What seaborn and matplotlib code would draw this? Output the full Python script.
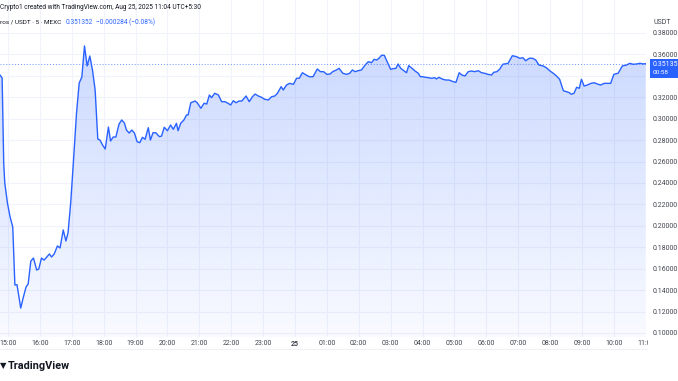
import matplotlib
matplotlib.use("Agg", force=True)
import matplotlib.pyplot as plt
import matplotlib.dates as mdates
import numpy as np
import pandas as pd
import seaborn as sns
from matplotlib.patches import Rectangle
from matplotlib.colors import LinearSegmentedColormap

TIMES = [
    "14:45", "14:49", "14:52", "14:54", "14:59", "15:04", "15:09", "15:13", "15:17", "15:24",
    "15:29", "15:34", "15:38", "15:43", "15:48", "15:54", "15:58", "16:03", "16:08", "16:13",
    "16:18", "16:22", "16:27", "16:33", "16:38", "16:44", "16:49", "16:53", "16:58", "17:03",
    "17:09", "17:14", "17:19", "17:24", "17:29", "17:34", "17:39", "17:44", "17:49", "17:53",
    "17:58", "18:03", "18:09", "18:13", "18:18", "18:23", "18:29", "18:34", "18:39", "18:43",
    "18:48", "18:53", "18:58", "19:03", "19:08", "19:13", "19:18", "19:24", "19:28", "19:33",
    "19:38", "19:45", "19:49", "19:54", "20:00", "20:06", "20:11", "20:17", "20:20", "20:25",
    "20:31", "20:36", "20:39", "20:44", "20:52", "20:56", "21:03", "21:09", "21:14", "21:19",
    "21:23", "21:29", "21:36", "21:42", "21:48", "21:54", "21:59", "22:04", "22:09", "22:15",
    "22:20", "22:28", "22:34", "22:40", "22:45", "22:51", "22:57", "23:03", "23:10", "23:16",
    "23:22", "23:27", "23:34", "23:38", "23:44", "23:50", "23:57", "00:03", "00:08", "00:14",
    "00:21", "00:27", "00:34", "00:42", "00:48", "00:54", "01:00", "01:06", "01:11", "01:18",
    "01:23", "01:30", "01:37", "01:43", "01:48", "01:53", "01:59", "02:05", "02:12", "02:18",
    "02:24", "02:29", "02:34", "02:38", "02:43", "02:48", "02:52", "03:00", "03:05", "03:10",
    "03:14", "03:19", "03:25", "03:30", "03:34", "03:39", "03:46", "03:52", "03:56", "04:01",
    "04:06", "04:11", "04:17", "04:23", "04:26", "04:31", "04:38", "04:44", "04:50", "04:58",
    "05:03", "05:09", "05:14", "05:20", "05:26", "05:32", "05:38", "05:45", "05:51", "05:57",
    "06:03", "06:10", "06:14", "06:20", "06:25", "06:31", "06:41", "06:49", "06:57", "07:03",
    "07:09", "07:14", "07:21", "07:27", "07:33", "07:39", "07:47", "07:53", "08:00", "08:06",
    "08:12", "08:18", "08:25", "08:31", "08:36", "08:40", "08:45", "08:50", "08:55", "08:59",
    "09:04", "09:10", "09:17", "09:23", "09:29", "09:35", "09:42", "09:49", "09:54", "10:00",
    "10:08", "10:16", "10:24", "10:30", "10:36", "10:43", "10:49", "10:55", "11:00",
]
PRICES = [
    0.3408, 0.3380, 0.2586, 0.2399, 0.2213, 0.2082, 0.1989, 0.1447, 0.1450, 0.1232,
    0.1335, 0.1429, 0.1457, 0.1671, 0.1699, 0.1587, 0.1597, 0.1699, 0.1680, 0.1709,
    0.1737, 0.1709, 0.1737, 0.1812, 0.1793, 0.1961, 0.1858, 0.1933, 0.2213, 0.2586,
    0.3053, 0.3333, 0.3389, 0.3679, 0.3492, 0.3585, 0.3455, 0.3268, 0.2810, 0.2801,
    0.2754, 0.2717, 0.2922, 0.2792, 0.2829, 0.2829, 0.2950, 0.2988, 0.2960, 0.2894,
    0.2866, 0.2894, 0.2866, 0.2785, 0.2776, 0.2826, 0.2808, 0.2916, 0.2801, 0.2869,
    0.2869, 0.2832, 0.2838, 0.2920, 0.2888, 0.2941, 0.2901, 0.2957, 0.2888, 0.2957,
    0.2988, 0.3035, 0.3035, 0.3149, 0.3165, 0.3149, 0.3097, 0.3144, 0.3137, 0.3221,
    0.3196, 0.3237, 0.3221, 0.3159, 0.3159, 0.3144, 0.3128, 0.3168, 0.3149, 0.3165,
    0.3165, 0.3212, 0.3159, 0.3205, 0.3230, 0.3212, 0.3200, 0.3181, 0.3175, 0.3205,
    0.3212, 0.3237, 0.3299, 0.3268, 0.3314, 0.3330, 0.3321, 0.3377, 0.3377, 0.3429,
    0.3408, 0.3392, 0.3392, 0.3464, 0.3439, 0.3439, 0.3414, 0.3417, 0.3439, 0.3455,
    0.3470, 0.3424, 0.3414, 0.3424, 0.3455, 0.3439, 0.3448, 0.3455, 0.3501, 0.3532,
    0.3523, 0.3554, 0.3548, 0.3564, 0.3592, 0.3592, 0.3548, 0.3461, 0.3467, 0.3470,
    0.3511, 0.3470, 0.3448, 0.3429, 0.3495, 0.3476, 0.3445, 0.3424, 0.3392, 0.3392,
    0.3386, 0.3383, 0.3377, 0.3383, 0.3371, 0.3386, 0.3368, 0.3361, 0.3361, 0.3345,
    0.3340, 0.3429, 0.3408, 0.3399, 0.3439, 0.3445, 0.3439, 0.3448, 0.3429, 0.3424,
    0.3414, 0.3408, 0.3433, 0.3439, 0.3461, 0.3508, 0.3517, 0.3588, 0.3579, 0.3564,
    0.3569, 0.3541, 0.3564, 0.3564, 0.3548, 0.3501, 0.3492, 0.3476, 0.3445, 0.3424,
    0.3399, 0.3368, 0.3261, 0.3252, 0.3243, 0.3228, 0.3237, 0.3293, 0.3284, 0.3368,
    0.3305, 0.3314, 0.3330, 0.3336, 0.3324, 0.3314, 0.3330, 0.3330, 0.3330, 0.3414,
    0.3424, 0.3492, 0.3501, 0.3517, 0.3508, 0.3511, 0.3517, 0.3511, 0.351352,
]
HOUR_LABELS = [
    "15:00", "16:00", "17:00", "18:00", "19:00", "20:00", "21:00", "22:00", "23:00", "25",
    "01:00", "02:00", "03:00", "04:00", "05:00", "06:00", "07:00", "08:00", "09:00", "10:00", "11:00",
]
PRICE_TICKS = [0.10, 0.12, 0.14, 0.16, 0.18, 0.20, 0.22, 0.24, 0.26, 0.28, 0.30, 0.32, 0.34, 0.36, 0.38]
LAST_PRICE = 0.351352
LAST_CHANGE = "\u22120.000284 (\u22120.08%)"
COUNTDOWN = "00:58"

BLUE = "#2962ff"
TEXT = "#131722"
AXIS_TEXT = "#434651"
GRID = "#f0f3fa"


def to_datetimes(times, start="2025-08-24"):
    day = pd.Timestamp(start)
    out, prev = [], None
    for t in times:
        h = int(t[:2])
        if prev is not None and h < prev:
            day += pd.Timedelta(days=1)
        prev = h
        out.append(day + pd.Timedelta(hours=h, minutes=int(t[3:])))
    return out


def main() -> None:
    sns.set_theme(style="white")
    plt.rcParams["font.family"] = ["Roboto", "DejaVu Sans"]

    df = pd.DataFrame({"time": to_datetimes(TIMES), "price": PRICES})
    hours = pd.date_range("2025-08-24 15:00", "2025-08-25 11:00", freq="h")

    W, H = 678, 381
    fig = plt.figure(figsize=(W / 100, H / 100), dpi=100)
    fig.patch.set_facecolor("white")
    ax = fig.add_axes([0, 44 / H, 646 / W, 337 / H])

    ymin, ymax = 0.0962, 0.4108
    xmin = pd.Timestamp("2025-08-24 14:45")
    xmax = pd.Timestamp("2025-08-25 11:00:30")

    # gradient area under the line
    poly = ax.fill_between(df["time"], df["price"], ymin, color="none", lw=0)
    grad = np.linspace(0, 1, 256).reshape(-1, 1)
    cmap = LinearSegmentedColormap.from_list(
        "tv", [(41 / 255, 98 / 255, 1, 0.03), (41 / 255, 98 / 255, 1, 0.24)]
    )
    img = ax.imshow(
        grad, cmap=cmap, aspect="auto", origin="lower", zorder=1,
        extent=[mdates.date2num(xmin), mdates.date2num(xmax), ymin, max(PRICES)],
    )
    img.set_clip_path(poly.get_paths()[0], transform=ax.transData)

    sns.lineplot(data=df, x="time", y="price", color=BLUE, linewidth=1.0, ax=ax, zorder=3)
    ax.axhline(LAST_PRICE, color=BLUE, ls=(0, (1, 2)), lw=0.7, alpha=0.7, zorder=2)

    ax.set_xlim(xmin, xmax)
    ax.set_ylim(ymin, ymax)
    ax.set_xticks(hours)
    ax.set_xticklabels(HOUR_LABELS)
    ax.set_yticks(PRICE_TICKS)
    ax.yaxis.set_major_formatter(matplotlib.ticker.FormatStrFormatter("%.5f"))
    ax.yaxis.tick_right()
    ax.tick_params(axis="both", length=0, labelsize=5, labelcolor=AXIS_TEXT)
    ax.tick_params(axis="x", pad=2.5)
    ax.tick_params(axis="y", pad=5)
    for lab in ax.get_xticklabels():
        if lab.get_text() == "25":
            lab.set_fontweight("bold")
    # the 0.34 label sits under the last-price badge
    for tick, lab in zip(PRICE_TICKS, ax.get_yticklabels()):
        if abs(tick - 0.34) < 1e-9:
            lab.set_visible(False)
    ax.grid(True, color=GRID, lw=0.8, zorder=0)
    ax.set_xlabel("")
    ax.set_ylabel("")
    sns.despine(ax=ax, left=True, bottom=True, right=True, top=True)

    # price scale overlays
    fig.add_artist(Rectangle((648 / W, 0), 30 / W, 44 / H, transform=fig.transFigure,
                             facecolor="white", edgecolor="none", zorder=5))
    fig.add_artist(Rectangle((650 / W, 1 - 78 / H), 28 / W, 19 / H, transform=fig.transFigure,
                             facecolor=BLUE, edgecolor="none", zorder=6))
    fig.text(653 / W, 1 - 64 / H, f"{LAST_PRICE:.5f}", color="white", fontsize=5,
             va="center", ha="left", zorder=7)
    fig.text(653 / W, 1 - 72.5 / H, COUNTDOWN, color="white", fontsize=4.6,
             va="center", ha="left", zorder=7)
    fig.text(654 / W, 1 - 22 / H, "USDT", color=AXIS_TEXT, fontsize=5, va="center", ha="left")

    # header / footer text
    fig.text(0, 1 - 7.5 / H, "Crypto1 created with TradingView.com, Aug 25, 2025 11:04 UTC+5:30",
             color=TEXT, fontsize=4.7, va="center", ha="left")
    fig.text(0, 1 - 22.5 / H, "ros / USDT \u00b7 5 \u00b7 MEXC", color=TEXT, fontsize=4.6,
             va="center", ha="left")
    fig.text(66 / W, 1 - 22.5 / H, f"{LAST_PRICE:.6f}", color=BLUE, fontsize=4.7,
             va="center", ha="left")
    fig.text(96 / W, 1 - 22.5 / H, LAST_CHANGE, color=BLUE, fontsize=4.7, va="center", ha="left")
    fig.add_artist(plt.Line2D([0, 1], [1 - 349 / H] * 2, transform=fig.transFigure,
                              color="#eceef2", lw=0.6))
    fig.text(8 / W, 1 - 366 / H, "TradingView", color=TEXT, fontsize=7.8, fontweight="bold",
             va="center", ha="left")
    fig.text(0, 1 - 366 / H, "\u25bc", color=TEXT, fontsize=6, va="center", ha="left")

    fig.savefig("out.png", dpi=100)


if __name__ == "__main__":
    main()
